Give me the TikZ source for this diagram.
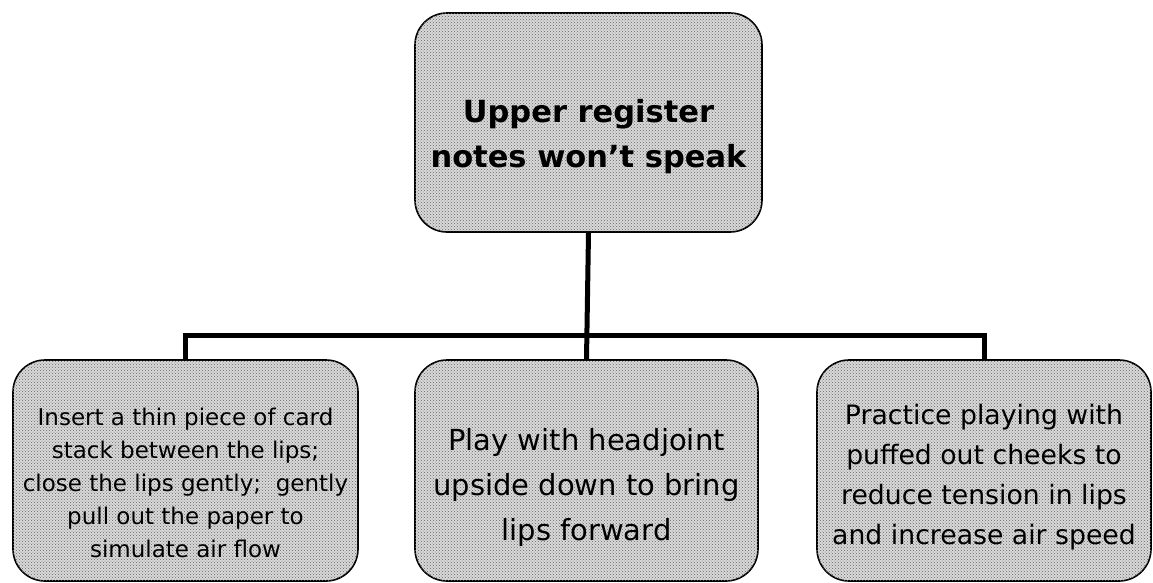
\documentclass[tikz,border=0pt]{standalone}
\usepackage{fontspec}
\setmainfont{DejaVu Sans}
\usetikzlibrary{patterns}
\begin{document}
\begin{tikzpicture}[x=1pt,y=-1pt,
  box/.style={draw=black, line width=1.6pt, rounded corners=32pt,
    fill=gray!30, postaction={pattern=crosshatch dots, pattern color=black!60},
    inner sep=0pt, minimum height=221pt},
  caption/.style={align=center, inner sep=0pt},
  link/.style={line width=5pt, line join=miter}]
\useasboundingbox (0,0) rectangle (1153,582);
% problem box
\node[box, minimum width=347pt, minimum height=219pt] (top) at (588.5,122.5) {};
\node[caption, font=\fontsize{30.5}{45}\selectfont\bfseries] (topText)
  at ([yshift=-14pt]top.center) {Upper register\\notes won't speak};
% remedies
\node[box, minimum width=345pt] (left) at (185.5,470.5) {};
\node[caption, font=\fontsize{23}{33}\selectfont] (leftText)
  at ([yshift=-12pt]left.center)
  {Insert a thin piece of card\\stack between the lips;\\close the lips gently;\ \ gently\\pull out the paper to\\simulate air flow};
\node[box, minimum width=343pt] (mid) at (586.5,470.5) {};
\node[caption, font=\fontsize{29}{45}\selectfont] (midText)
  at ([yshift=-17pt]mid.center)
  {Play with headjoint\\upside down to bring\\lips forward};
\node[box, minimum width=334pt] (right) at (984,470.5) {};
\node[caption, font=\fontsize{26.7}{40}\selectfont] (rightText)
  at ([yshift=-7pt]right.center)
  {Practice playing with\\puffed out cheeks to\\reduce tension in lips\\and increase air speed};
% tree connectors
\coordinate (bus) at (587,335);
\draw[link] (top.south) -- (mid.north);
\draw[link] (left.north) -- (left.north |- bus) -- (right.north |- bus) -- (right.north);
\end{tikzpicture}
\end{document}
